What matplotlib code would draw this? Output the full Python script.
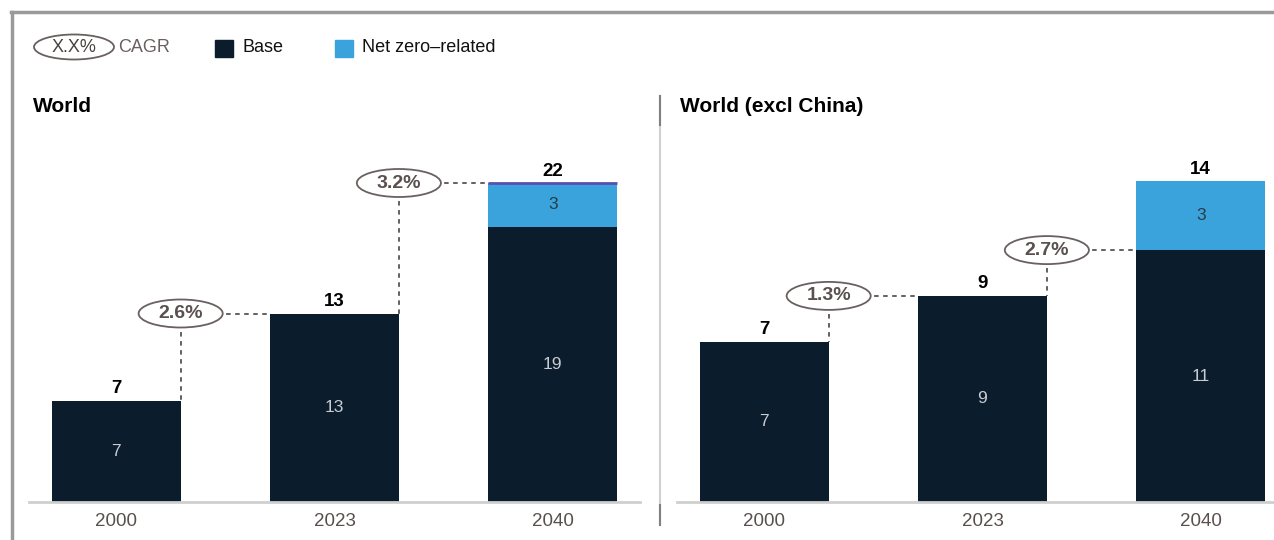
import matplotlib
matplotlib.use("Agg")
import matplotlib.pyplot as plt
from matplotlib.lines import Line2D
from matplotlib.patches import Rectangle, Ellipse

plt.rcParams['font.family'] = ['Liberation Sans', 'DejaVu Sans']

years = ["2000", "2023", "2040"]
world_base = [7, 13, 19]
world_netzero = [0, 0, 3]
world_total = [7, 13, 22]
world_cagr = ["2.6%", "3.2%"]
world_cagr_y = [13, 22]

exc_base = [7, 9, 11]
exc_netzero = [0, 0, 3]
exc_total = [7, 9, 14]
exc_cagr = ["1.3%", "2.7%"]
exc_cagr_y = [9, 11]

BASE_C = "#0b1c2c"
NZ_C = "#3aa3dc"
W, H = 1274, 540

fig = plt.figure(figsize=(12.74, 5.4), dpi=100)

def fx(x): return x / W
def fy(y): return 1 - y / H

# outer frame
fig.add_artist(Line2D([fx(12), fx(12)], [fy(12), fy(545)], color="#9a9a9a", lw=2.5))
fig.add_artist(Line2D([fx(11), fx(1280)], [fy(12), fy(12)], color="#9a9a9a", lw=2.5))

# legend
fig.add_artist(Ellipse((fx(74), fy(47)), 80 / W, 25 / H, fc="white", ec="#6a6060", lw=1.3))
fig.text(fx(74), fy(47), "X.X%", ha="center", va="center", fontsize=13, color="#4a4040")
fig.text(fx(118), fy(47), "CAGR", ha="left", va="center", fontsize=13, color="#6a6060")
fig.add_artist(Rectangle((fx(215), fy(57)), fx(18), 17 / H, color=BASE_C))
fig.text(fx(243), fy(48), "Base", ha="left", va="center", fontsize=13, color="#111")
fig.add_artist(Rectangle((fx(335), fy(57)), fx(18), 17 / H, color=NZ_C))
fig.text(fx(362), fy(48), "Net zero\u2013related", ha="left", va="center", fontsize=13, color="#111")

# titles
fig.text(fx(33), fy(107), "World", ha="left", va="center", fontsize=15, fontweight="bold", color="#000")
fig.text(fx(680), fy(107), "World (excl China)", ha="left", va="center", fontsize=15, fontweight="bold", color="#000")

# separator
fig.add_artist(Line2D([fx(660), fx(660)], [fy(96), fy(525)], color="#d0d0d0", lw=1.5))
fig.add_artist(Line2D([fx(660), fx(660)], [fy(96), fy(125)], color="#808080", lw=1.5))
fig.add_artist(Line2D([fx(660), fx(660)], [fy(505), fy(525)], color="#808080", lw=1.5))

def panel(left, right, base, nz, total, cagr, cagr_y, ppu, purple=False):
    bottom, top = 502, 140
    ax = fig.add_axes([fx(left), fy(bottom), (right - left) / W, (bottom - top) / H])
    x = list(range(len(years)))
    bw = 0.59
    ax.bar(x, base, width=bw, color=BASE_C, zorder=2)
    ax.bar(x, nz, width=bw, bottom=base, color=NZ_C, zorder=2, edgecolor="none")
    ax.set_xlim(-0.4, 2.4)
    ax.set_ylim(0, (bottom - top) / ppu)
    for s in ["top", "right", "left"]:
        ax.spines[s].set_visible(False)
    ax.spines["bottom"].set_color("#cfcfcf")
    ax.spines["bottom"].set_linewidth(2)
    ax.set_yticks([])
    ax.set_xticks(x)
    ax.set_xticklabels(years, fontsize=13.5, color="#5a4f4f")
    ax.tick_params(axis="x", length=0, pad=8)
    off = 12 / ppu
    for i in x:
        ax.text(i, base[i] / 2, str(base[i]), ha="center", va="center", fontsize=12.5, color="#c9cdd2", zorder=3)
        if nz[i]:
            ax.text(i, base[i] + nz[i] / 2, str(nz[i]), ha="center", va="center", fontsize=12.5, color="#2a3a48", zorder=3)
        ax.text(i, total[i] + off, str(total[i]), ha="center", va="center", fontsize=13.5,
                fontweight="bold", color="#000", zorder=3)
    if purple:
        ax.hlines(total[2], 2 - bw / 2, 2 + bw / 2, color="#5a4fb0", lw=2, zorder=4)
    ew = 84 / 218.0
    eh = 28 / ppu
    for k in range(len(cagr)):
        ex = k + bw / 2
        ey = cagr_y[k]
        ax.plot([ex, ex], [ey, total[k]], ls=(0, (2.5, 2.5)), color="#555", lw=1.3, zorder=1)
        ax.plot([ex, k + 1 - bw / 2], [ey, ey], ls=(0, (2.5, 2.5)), color="#555", lw=1.3, zorder=1)
        ax.add_patch(Ellipse((ex, ey), ew, eh, fc="white", ec="#6a6060", lw=1.3, zorder=4))
        ax.text(ex, ey, cagr[k], ha="center", va="center", fontsize=14, fontweight="bold",
                color="#5a5050", zorder=5)
    return ax

panel(29, 640, world_base, world_netzero, world_total, world_cagr, world_cagr_y, 14.5, purple=True)
panel(677, 1288, exc_base, exc_netzero, exc_total, exc_cagr, exc_cagr_y, 22.9)

fig.savefig("out.png", dpi=100)
